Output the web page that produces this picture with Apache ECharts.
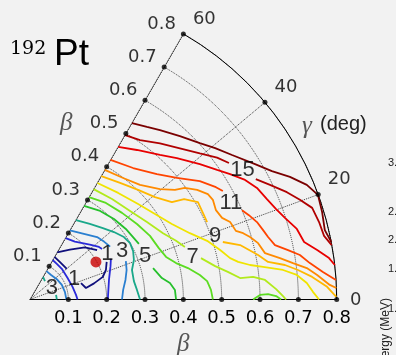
<!DOCTYPE html>
<html>
<head>
<meta charset="utf-8">
<script src="https://cdn.jsdelivr.net/npm/echarts@6.0.0/dist/echarts.min.js"></script>
<style>
  html, body { margin: 0; padding: 0; background: #f2f2f2; }
  #chart { width: 396px; height: 355px; }
</style>
</head>
<body>
<div id="chart"></div>
<script>
// axis ticks
const betaTicks = [0.1, 0.2, 0.3, 0.4, 0.5, 0.6, 0.7, 0.8];
const gammaTicks = [0, 20, 40, 60];
const colorbarTicks = ['3.0', '2.5', '2.0', '1.5', '1.0'];

// contour lines of the energy surface, points are [beta*cos(gamma), beta*sin(gamma)]
// a line is split in pieces where a level label sits on it
const e16 = [
  [[0.266, 0.460], [0.305, 0.450], [0.339, 0.442], [0.391, 0.426], [0.443, 0.408], [0.483, 0.395], [0.527, 0.377], [0.587, 0.353], [0.631, 0.335], [0.678, 0.320], [0.722, 0.299], [0.751, 0.273], [0.762, 0.228], [0.769, 0.181], [0.786, 0.150]]
];
const e15 = [
  [[0.248, 0.429], [0.287, 0.416], [0.339, 0.407], [0.391, 0.394], [0.443, 0.381], [0.488, 0.370], [0.519, 0.356]],
  [[0.589, 0.314], [0.626, 0.299], [0.670, 0.280], [0.704, 0.260], [0.736, 0.239], [0.754, 0.202], [0.767, 0.166], [0.787, 0.142]]
];
const e13 = [
  [[0.230, 0.398], [0.279, 0.390], [0.339, 0.377], [0.383, 0.369], [0.443, 0.353], [0.488, 0.338], [0.522, 0.327], [0.561, 0.312], [0.592, 0.291], [0.618, 0.262], [0.642, 0.236], [0.665, 0.213], [0.696, 0.184], [0.715, 0.150], [0.749, 0.129], [0.780, 0.108], [0.795, 0.090]]
];
const e11 = [
  [[0.210, 0.364], [0.269, 0.343], [0.331, 0.327], [0.383, 0.317], [0.443, 0.309], [0.485, 0.293], [0.503, 0.283]],
  [[0.553, 0.233], [0.571, 0.220], [0.592, 0.202], [0.608, 0.181], [0.621, 0.163], [0.639, 0.142], [0.673, 0.129], [0.704, 0.116], [0.730, 0.095], [0.764, 0.072], [0.798, 0.051]]
];
const e10 = [
  [[0.195, 0.338], [0.243, 0.317], [0.287, 0.299], [0.339, 0.288], [0.378, 0.286], [0.404, 0.291], [0.436, 0.286], [0.464, 0.275], [0.477, 0.260], [0.485, 0.233], [0.501, 0.213], [0.522, 0.202], [0.537, 0.179], [0.556, 0.173], [0.574, 0.163], [0.595, 0.147], [0.613, 0.121], [0.652, 0.108], [0.686, 0.095], [0.722, 0.082], [0.749, 0.064], [0.782, 0.038], [0.799, 0.030]]
];
const e9 = [
  [[0.186, 0.322], [0.235, 0.304], [0.282, 0.286], [0.326, 0.267], [0.370, 0.254], [0.402, 0.262], [0.438, 0.254], [0.451, 0.226], [0.462, 0.202]],
  [[0.503, 0.150], [0.548, 0.142], [0.595, 0.116], [0.621, 0.098], [0.665, 0.090], [0.699, 0.077], [0.736, 0.059], [0.775, 0.033], [0.799, 0.007]]
];
const e8 = [
  [[0.176, 0.304], [0.230, 0.278], [0.282, 0.249], [0.326, 0.223], [0.370, 0.197], [0.417, 0.173], [0.462, 0.153], [0.496, 0.129], [0.522, 0.108], [0.543, 0.098], [0.574, 0.090], [0.608, 0.085], [0.660, 0.077], [0.696, 0.064], [0.722, 0.043], [0.738, 0.020], [0.754, 0]]
];
const e7 = [
  [[0.166, 0.288], [0.214, 0.262], [0.261, 0.231], [0.305, 0.202], [0.347, 0.173], [0.381, 0.153], [0.404, 0.137]],
  [[0.446, 0.108], [0.483, 0.087], [0.516, 0.072], [0.548, 0.056], [0.582, 0.059], [0.613, 0.051], [0.642, 0.027], [0.660, 0.009], [0.668, 0]]
];
const e6 = [
  [[0.154, 0.267], [0.198, 0.252], [0.240, 0.226], [0.279, 0.197], [0.313, 0.166], [0.336, 0.134], [0.355, 0.111], [0.381, 0.095], [0.412, 0.082], [0.443, 0.064], [0.462, 0.048], [0.472, 0.025], [0.477, 0]],
  [[0.582, 0], [0.600, 0.012], [0.621, 0.014], [0.642, 0.009], [0.655, 0]]
];
const e5 = [
  [[0.141, 0.244], [0.183, 0.231], [0.219, 0.210], [0.250, 0.184], [0.271, 0.160], [0.284, 0.145]],
  [[0.321, 0.082], [0.344, 0.056], [0.365, 0.043], [0.378, 0.025], [0.381, 0]]
];
const e4 = [
  [[0.120, 0.207], [0.156, 0.197], [0.190, 0.186], [0.219, 0.176], [0.245, 0.163], [0.261, 0.147], [0.269, 0.126], [0.271, 0.103], [0.266, 0.077], [0.271, 0.048], [0.279, 0.025], [0.287, 0]],
  [[0.034, 0.059], [0.039, 0.048]],
  [[0.068, 0.012], [0.070, 0]]
];
const e3 = [
  [[0.104, 0.180], [0.138, 0.172], [0.175, 0.163], [0.193, 0.151], [0.209, 0.138]],
  [[0.250, 0.100], [0.252, 0.077], [0.249, 0.051], [0.243, 0.025], [0.240, 0]],
  [[0.043, 0.074], [0.055, 0.064], [0.070, 0.053], [0.083, 0.038], [0.091, 0.020], [0.095, 0]]
];
const e2 = [
  [[0.093, 0.160], [0.117, 0.151], [0.156, 0.143], [0.180, 0.137], [0.188, 0.132]],
  [[0.211, 0.106], [0.210, 0.087], [0.206, 0.051], [0.203, 0]],
  [[0.059, 0.103], [0.070, 0.093], [0.083, 0.080], [0.098, 0.056], [0.111, 0.033], [0.120, 0.012], [0.124, 0]]
];
const e1 = [
  [[0.071, 0.123], [0.104, 0.130], [0.143, 0.136], [0.175, 0.129]],
  [[0.200, 0.098], [0.198, 0.077], [0.190, 0.059], [0.167, 0.042], [0.146, 0.030], [0.133, 0.043]],
  [[0.096, 0.080], [0.081, 0.095], [0.064, 0.111]]
];

// level labels [x, y, text]
const levelLabels = [
  [0.202, 0.124, '1'], [0.115, 0.059, '1'], [0.240, 0.132, '3'], [0.057, 0.035, '3'],
  [0.300, 0.120, '5'], [0.424, 0.116, '7'], [0.483, 0.171, '9'], [0.524, 0.256, '11'], [0.554, 0.342, '15']
];
// ground state minimum
const minimum = [[0.172, 0.098]];

// line colours, kept apart from the data
const contours = [
  { lines: e16, color: '#7a0000' },
  { lines: e15, color: '#b00000' },
  { lines: e13, color: '#e80000' },
  { lines: e11, color: '#ff4400' },
  { lines: e10, color: '#ff8a00' },
  { lines: e9, color: '#ffb800' },
  { lines: e8, color: '#f0e400' },
  { lines: e7, color: '#b2ea1c' },
  { lines: e6, color: '#5cdc22' },
  { lines: e5, color: '#26c02c' },
  { lines: e4, color: '#1aa88a' },
  { lines: e3, color: '#2a7fd0' },
  { lines: e2, color: '#2a2ad8' },
  { lines: e1, color: '#10107c' }
];

const tickFont = { fontFamily: 'DejaVu Sans', fontSize: 18, color: '#000' };
const gridLine = { color: '#3a3a3a', type: 'dotted', width: 1 };

const series = [];

// left edge (gamma = 60)
series.push({
  type: 'line', coordinateSystem: 'polar', data: [[0, 60], [0.8, 60]],
  symbol: 'none', silent: true, z: 3,
  lineStyle: { color: '#000', width: 1 }
});

contours.forEach(c => {
  c.lines.forEach(piece => {
    series.push({
      type: 'line', data: piece, symbol: 'none', silent: true, z: 4,
      lineStyle: { color: c.color, width: 1.8 }
    });
  });
});

// tick dots
series.push({
  type: 'scatter', coordinateSystem: 'polar', silent: true, z: 6,
  symbolSize: 5, itemStyle: { color: '#000' },
  data: betaTicks.map(b => [b, 0])
    .concat(betaTicks.map(b => [b, 60]))
    .concat(gammaTicks.filter(g => g > 0 && g < 60).map(g => [0.8, g]))
});

// beta labels on the left edge
series.push({
  type: 'scatter', coordinateSystem: 'polar', silent: true, z: 6,
  symbolSize: 1, itemStyle: { color: 'rgba(0,0,0,0)' },
  data: betaTicks.map(b => [b, 60]),
  label: {
    show: true, position: 'left', distance: 7, offset: [0, -10],
    formatter: p => p.value[0].toFixed(1), ...tickFont
  }
});

// gamma labels outside the arc
series.push({
  type: 'scatter', coordinateSystem: 'polar', silent: true, z: 6,
  symbolSize: 1, itemStyle: { color: 'rgba(0,0,0,0)' },
  data: gammaTicks.map(g => ({
    value: [0.8, g],
    label: g === 0 ? { offset: [19, 1] } : { offset: [21, -15] }
  })),
  label: {
    show: true, position: 'inside',
    formatter: p => String(p.value[1]), ...tickFont
  }
});

// contour level labels
series.push({
  type: 'scatter', silent: true, z: 7,
  symbolSize: 1, itemStyle: { color: 'rgba(0,0,0,0)' },
  data: levelLabels,
  label: {
    show: true, position: 'inside', offset: [0, 2], formatter: p => p.value[2],
    fontFamily: 'Liberation Sans', fontSize: 22, color: '#000'
  }
});

// minimum
series.push({
  type: 'scatter', silent: true, z: 8, symbolSize: 11,
  itemStyle: { color: '#c80000' }, data: minimum
});

const axisTitle = { fontFamily: 'Liberation Serif', fontStyle: 'italic', fontSize: 25, color: '#555' };
const colorbarY = [163, 212, 240, 269, 309];

const graphic = [
  { type: 'text', left: 10, top: 40, style: { text: '192', font: '19px "DejaVu Serif"', fill: '#000' } },
  { type: 'text', left: 54, top: 36, style: { text: 'Pt', font: '37px "Liberation Sans"', fill: '#000' } },
  { type: 'text', left: 60, top: 111, style: { text: 'β', font: 'italic 25px "Liberation Serif"', fill: '#555' } },
  { type: 'text', left: 302, top: 114, style: { text: 'γ', font: 'italic 25px "Liberation Serif"', fill: '#555' } },
  { type: 'text', left: 320, top: 114, style: { text: '(deg)', font: '20px "Liberation Sans"', fill: '#222' } },
  {
    type: 'text', x: 386, y: 335, rotation: Math.PI / 2,
    style: { text: 'Energy (MeV)', font: '12px "Liberation Sans"', fill: '#222', align: 'center', verticalAlign: 'middle' }
  }
].concat(colorbarTicks.map((t, i) => ({
  type: 'text', x: 388, y: colorbarY[i],
  style: { text: t, font: '11px "Liberation Sans"', fill: '#222', align: 'left', verticalAlign: 'middle' }
})));

const chart = echarts.init(document.getElementById('chart'));
chart.setOption({
  backgroundColor: '#f2f2f2',
  animation: false,
  grid: { left: 30, top: 33.9, width: 306.7, height: 265.6, containLabel: false, outerBoundsMode: 'none' },
  xAxis: {
    type: 'value', min: 0, max: 0.8, interval: 0.1,
    axisLine: { lineStyle: { color: '#000', width: 1 } },
    axisTick: { show: false }, splitLine: { show: false },
    axisLabel: { showMinLabel: false, margin: 10, formatter: v => v.toFixed(1), ...tickFont },
    name: 'β', nameLocation: 'middle', nameGap: 25, nameTextStyle: axisTitle
  },
  yAxis: { type: 'value', min: 0, max: 0.69282, show: false },
  polar: { center: [30, 299.5], radius: 306.7 },
  angleAxis: {
    type: 'value', startAngle: 0, endAngle: 60, clockwise: false,
    min: 0, max: 60, interval: 20,
    axisLine: { lineStyle: { color: '#000', width: 1 } },
    axisTick: { show: false }, axisLabel: { show: false },
    splitLine: { lineStyle: gridLine }
  },
  radiusAxis: {
    type: 'value', min: 0, max: 0.8, interval: 0.1,
    axisLine: { show: false }, axisTick: { show: false }, axisLabel: { show: false },
    splitLine: { lineStyle: gridLine }
  },
  graphic: graphic,
  series: series
});
</script>
</body>
</html>
